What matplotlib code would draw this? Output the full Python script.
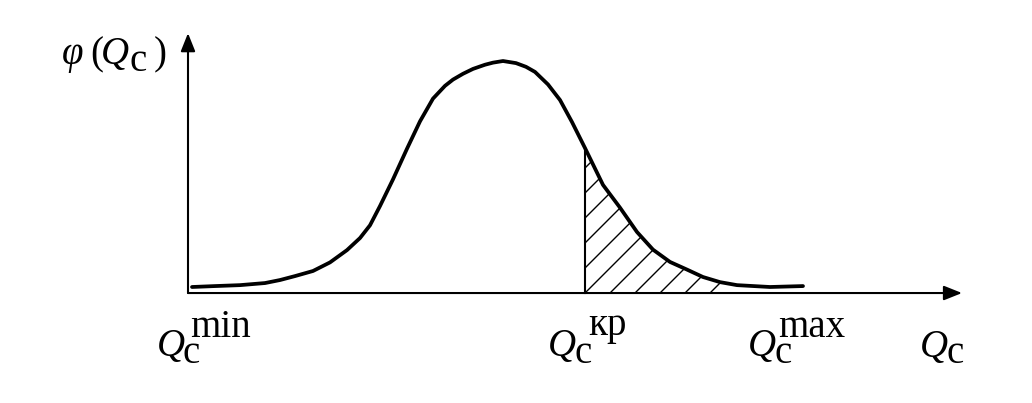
import numpy as np
import matplotlib
matplotlib.use("Agg")
import matplotlib.pyplot as plt
from matplotlib.patches import FancyArrowPatch

# density curve phi(Q_c), read point by point
q_vals = [0.04, 0.27, 0.52, 0.77, 0.92, 1.07, 1.25, 1.42, 1.59, 1.72, 1.82, 1.92,
          2.05, 2.19, 2.32, 2.45, 2.57, 2.65, 2.75, 2.85, 2.97, 3.05, 3.15, 3.28,
          3.38, 3.47, 3.60, 3.72, 3.84, 3.97, 4.15, 4.32, 4.49, 4.65, 4.82, 4.99,
          5.15, 5.32, 5.49, 5.82, 6.15]
phi_vals = [0.026, 0.030, 0.034, 0.043, 0.056, 0.073, 0.095, 0.132, 0.185, 0.237, 0.292, 0.375,
            0.490, 0.622, 0.740, 0.838, 0.893, 0.920, 0.945, 0.966, 0.984, 0.993, 1.000, 0.991,
            0.975, 0.953, 0.899, 0.832, 0.737, 0.625, 0.466, 0.368, 0.263, 0.187, 0.134, 0.101,
            0.069, 0.047, 0.034, 0.026, 0.030]

q_min = 0.0
q_kr = 3.97
q_max = 5.93
hatch_end = 5.35
axis_x_end = 7.74
axis_y_end = 1.12

FS = 28
FONT = "Liberation Serif"

fig = plt.figure(figsize=(10.32, 4.03), dpi=100)
ax = fig.add_axes([0, 0, 1, 1])
ax.set_xlim(-1.88, 8.44)
ax.set_ylim(-0.474, 1.263)
ax.axis("off")

q = np.array(q_vals)
phi = np.array(phi_vals)

# axes with arrow heads
for end in [(axis_x_end, 0), (0, axis_y_end)]:
    ax.add_patch(FancyArrowPatch((0, 0), end, arrowstyle="-|>,head_length=0.55,head_width=0.22",
                                 mutation_scale=20, lw=1.5, color="black", shrinkA=0, shrinkB=0))

ax.plot(q, phi, color="black", lw=2.7, solid_capstyle="round", solid_joinstyle="round", zorder=3)

# critical value line and hatched tail
phi_kr = np.interp(q_kr, q, phi)
ax.plot([q_kr, q_kr], [0, phi_kr], color="black", lw=1.5)

mask = (q >= q_kr) & (q <= hatch_end)
xs = np.concatenate([[q_kr], q[mask], [hatch_end]])
ys = np.concatenate([[phi_kr], phi[mask], [np.interp(hatch_end, q, phi)]])
region = ax.fill_between(xs, 0, ys, facecolor="none", lw=0)
clip = (region.get_paths()[0], ax.transData)

# 45 degree hatch lines (in screen space), 25 px apart along the axis
sx = 100.0   # px per x unit
sy = 232.0   # px per y unit
step = 0.25
for x0 in np.arange(q_kr - 6 * step, hatch_end + step, step):
    lx = np.array([x0, x0 + 2.0])
    ly = (lx - x0) * sx / sy
    ln, = ax.plot(lx, ly, color="black", lw=1.0)
    ln.set_clip_path(*clip)


def compound(x, y, parts):
    for s, dx, dy, italic in parts:
        ax.annotate(s, xy=(x, y), xytext=(dx, dy), textcoords="offset pixels",
                    fontsize=FS, family=FONT, style="italic" if italic else "normal",
                    ha="left", va="baseline")


compound(q_min, 0, [("Q", -31, -63, True), ("c", -5, -70, False), ("min", 2, -44, False)])
compound(q_kr, 0, [("Q", -37, -63, True), ("c", -10, -70, False), ("кр", 3, -42, False)])
compound(q_max, 0, [("Q", -33, -63, True), ("c", -6, -70, False), ("max", -3, -44, False)])
compound(axis_x_end, 0, [("Q", -42, -64, True), ("c", -15, -70, False)])
compound(0, axis_y_end, [("φ", -126, -31, True), ("(", -98, -31, False), ("Q", -87, -31, True),
                         ("c", -58, -38, False), (")", -34, -31, False)])

fig.savefig("out.png", dpi=100, facecolor="white")
